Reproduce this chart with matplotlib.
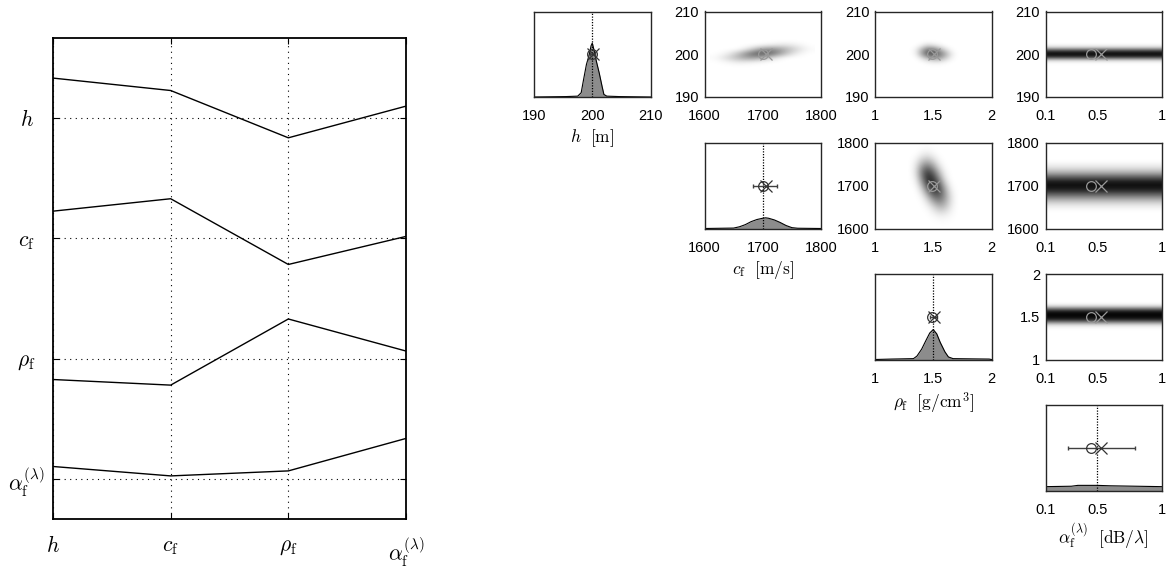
import numpy as np
import matplotlib.pyplot as plt

plt.rcParams['font.family'] = ['Liberation Sans', 'DejaVu Sans']
plt.rcParams['mathtext.fontset'] = 'cm'

# parameter names / axis stuff
names = [r'$h$', r'$c_\mathrm{f}$', r'$\rho_\mathrm{f}$', r'$\alpha_\mathrm{f}^{(\lambda)}$']
xlabels = [r'$h\ \ [\mathrm{m}]$', r'$c_\mathrm{f}\ \ [\mathrm{m/s}]$',
           r'$\rho_\mathrm{f}\ \ [\mathrm{g/cm^3}]$', r'$\alpha_\mathrm{f}^{(\lambda)}\ \ [\mathrm{dB}/\lambda]$']
lims = [(190, 210), (1600, 1800), (1, 2), (0.1, 1)]
ticks = [[190, 200, 210], [1600, 1700, 1800], [1, 1.5, 2], [0.1, 0.5, 1]]
ticklabels = [['190', '200', '210'], ['1600', '1700', '1800'], ['1', '1.5', '2'], ['0.1', '0.5', '1']]

# correlation rows (left panel)
corr_h = [1.00, 0.69, -0.49, 0.30]
corr_c = [0.68, 0.99, -0.65, 0.05]
corr_rho = [-0.52, -0.66, 0.99, 0.19]
corr_alpha = [0.31, 0.075, 0.20, 1.01]

# true value, posterior mean (o), MAP (x), error bar limits
true_vals = [200, 1700, 1.5, 0.5]
mean_vals = [199.9, 1700, 1.49, 0.452]
map_vals = [200.1, 1705, 1.51, 0.527]
err_lo = [199.6, 1684, 1.47, 0.276]
err_hi = [200.4, 1725, 1.53, 0.793]

# marginal densities (fraction of panel height)
h_x = [190, 195.5, 197.5, 198.1, 198.5, 199.0, 199.5, 199.8, 200.0, 200.3, 200.7, 201.2, 201.7, 202.0, 202.5, 204.6, 210]
h_y = [0, 0.005, 0.01, 0.05, 0.2, 0.38, 0.5, 0.6, 0.63, 0.55, 0.42, 0.28, 0.12, 0.03, 0.01, 0.005, 0]
c_x = [1600, 1650, 1660, 1670, 1680, 1690, 1700, 1705, 1710, 1720, 1730, 1740, 1750, 1760, 1800]
c_y = [0, 0.005, 0.02, 0.045, 0.08, 0.105, 0.12, 0.125, 0.12, 0.1, 0.07, 0.035, 0.01, 0.003, 0]
rho_x = [1.0, 1.14, 1.33, 1.36, 1.40, 1.44, 1.47, 1.50, 1.53, 1.56, 1.60, 1.63, 1.67, 1.98, 2.0]
rho_y = [0, 0.005, 0.01, 0.04, 0.12, 0.23, 0.31, 0.35, 0.30, 0.20, 0.09, 0.03, 0.01, 0.005, 0]
a_x = [0.1, 0.3, 0.35, 0.5, 0.6, 0.8, 1.0]
a_y = [0.045, 0.05, 0.06, 0.06, 0.055, 0.05, 0.045]
dens = [(h_x, h_y), (c_x, c_y), (rho_x, rho_y), (a_x, a_y)]

# joint densities (grey level 0..1), rows from top to bottom
hc_xs = [1620, 1640, 1660, 1680, 1700, 1720, 1740, 1760, 1780]
hc_ys = [204, 203, 202, 201, 200, 199, 198, 197, 196]
hc_img = [[0, 0, 0, 0, 0, 0, 0, 0, 0],
          [0, 0, 0, 0, 0, 0, 0, 0, 0],
          [0, 0, 0, 0, 0.02, 0.06, 0.1, 0.05, 0],
          [0, 0, 0, 0.15, 0.4, 0.45, 0.3, 0.15, 0.02],
          [0, 0.05, 0.25, 0.55, 0.7, 0.55, 0.25, 0.05, 0],
          [0.02, 0.15, 0.3, 0.4, 0.3, 0.1, 0, 0, 0],
          [0, 0.03, 0.08, 0.05, 0.02, 0, 0, 0, 0],
          [0, 0, 0, 0, 0, 0, 0, 0, 0],
          [0, 0, 0, 0, 0, 0, 0, 0, 0]]

hr_xs = [1.30, 1.35, 1.40, 1.45, 1.50, 1.55, 1.60, 1.65, 1.70]
hr_ys = [203, 202, 201, 200, 199, 198, 197]
hr_img = [[0, 0, 0, 0, 0, 0, 0, 0, 0],
          [0, 0, 0.05, 0.15, 0.1, 0.05, 0, 0, 0],
          [0, 0.05, 0.3, 0.55, 0.55, 0.35, 0.15, 0.02, 0],
          [0, 0.05, 0.35, 0.65, 0.7, 0.55, 0.35, 0.1, 0],
          [0, 0, 0.1, 0.25, 0.35, 0.35, 0.2, 0.05, 0],
          [0, 0, 0, 0.03, 0.05, 0.05, 0.02, 0, 0],
          [0, 0, 0, 0, 0, 0, 0, 0, 0]]

cr_xs = [1.25, 1.30, 1.35, 1.40, 1.45, 1.50, 1.55, 1.60, 1.65, 1.70, 1.75]
cr_ys = [1790, 1770, 1750, 1730, 1710, 1690, 1670, 1650, 1630, 1610]
cr_img = [[0, 0, 0, 0, 0, 0, 0, 0, 0, 0, 0],
          [0, 0, 0, 0.05, 0.08, 0.03, 0, 0, 0, 0, 0],
          [0, 0, 0.08, 0.3, 0.4, 0.25, 0.05, 0, 0, 0, 0],
          [0, 0, 0.12, 0.55, 0.8, 0.6, 0.25, 0.03, 0, 0, 0],
          [0, 0, 0.05, 0.4, 0.85, 0.85, 0.5, 0.12, 0, 0, 0],
          [0, 0, 0, 0.15, 0.55, 0.85, 0.75, 0.35, 0.05, 0, 0],
          [0, 0, 0, 0.02, 0.2, 0.5, 0.6, 0.4, 0.12, 0, 0],
          [0, 0, 0, 0, 0.03, 0.15, 0.3, 0.25, 0.08, 0, 0],
          [0, 0, 0, 0, 0, 0.02, 0.05, 0.05, 0.02, 0, 0],
          [0, 0, 0, 0, 0, 0, 0, 0, 0, 0, 0]]

# bands vs alpha (profile along y, top to bottom)
band_xs = [0.1, 0.325, 0.55, 0.775, 1.0]
ha_ys = [202.5, 202, 201.5, 201, 200.5, 200, 199.5, 199, 198.5, 198, 197.5]
ha_prof = [0, 0.05, 0.2, 0.55, 0.85, 0.95, 0.85, 0.5, 0.15, 0.03, 0]
ca_ys = [1760, 1750, 1740, 1730, 1720, 1710, 1700, 1690, 1680, 1670, 1660, 1650, 1640]
ca_prof = [0, 0.05, 0.15, 0.35, 0.65, 0.9, 0.95, 0.85, 0.6, 0.35, 0.15, 0.05, 0]
ra_ys = [1.675, 1.65, 1.625, 1.6, 1.575, 1.55, 1.525, 1.5, 1.475, 1.45, 1.425, 1.4, 1.375, 1.35]
ra_prof = [0, 0.05, 0.2, 0.5, 0.8, 0.95, 0.98, 0.95, 0.85, 0.6, 0.3, 0.1, 0.03, 0]


def band(prof, xs):
    return np.repeat(np.array(prof)[:, None], len(xs), axis=1)


joint = {
    (0, 1): (hc_xs, hc_ys, hc_img),
    (0, 2): (hr_xs, hr_ys, hr_img),
    (0, 3): (band_xs, ha_ys, band(ha_prof, band_xs)),
    (1, 2): (cr_xs, cr_ys, cr_img),
    (1, 3): (band_xs, ca_ys, band(ca_prof, band_xs)),
    (2, 3): (band_xs, ra_ys, band(ra_prof, band_xs)),
}

W, H = 1170, 567
fig = plt.figure(figsize=(W / 100, H / 100), dpi=100)

# ---- left: correlation lines
ax = fig.add_axes([53 / W, 1 - 519 / H, (406 - 53) / W, (519 - 38) / H])
xs = [1, 2, 3, 4]
for i, row in enumerate([corr_h, corr_c, corr_rho, corr_alpha]):
    ax.plot(xs, [4 - i + c / 3 for c in row], color='black', lw=1)
ax.set_xlim(1, 4)
ax.set_ylim(2 / 3, 14 / 3)
ax.set_xticks(xs)
ax.set_xticklabels(names, fontsize=15.5)
ax.set_yticks([4, 3, 2, 1])
ax.set_yticklabels(names, fontsize=15.5, ha='center')
ax.grid(True, linestyle=(0, (1, 4)), color='black', lw=0.8)
ax.tick_params(direction='in', top=True, right=True, length=4)
ax.tick_params(axis='x', pad=12)
ax.tick_params(axis='y', pad=19)
for s in ax.spines.values():
    s.set_linewidth(1.3)

# ---- right: triangle of marginals / joints
lefts = [534, 704.5, 875, 1045.5]
tops = [11.5, 143, 274, 405]
pw, ph = 116.5, 85.5
gray_m = '0.6'

for i in range(4):
    for j in range(i, 4):
        a = fig.add_axes([lefts[j] / W, 1 - (tops[i] + ph) / H, pw / W, ph / H])
        a.set_xlim(*lims[j])
        a.set_xticks(ticks[j])
        a.set_xticklabels(ticklabels[j], fontsize=10.5)
        a.tick_params(length=0, pad=9)
        for s in a.spines.values():
            s.set_linewidth(1.0)
            s.set_color('0.15')
        if i == j:
            dx, dy = dens[i]
            a.fill_between(dx, dy, 0, color='0.55', lw=0)
            a.plot(dx, dy, color='black', lw=0.8)
            a.axvline(true_vals[i], color='black', ls=(0, (1, 1.2)), lw=0.9)
            a.errorbar([map_vals[i]], [0.5], xerr=[[map_vals[i] - err_lo[i]], [err_hi[i] - map_vals[i]]],
                       fmt='none', ecolor='0.25', elinewidth=1, capsize=1.5)
            a.plot(mean_vals[i], 0.5, 'o', mfc='none', mec='0.2', ms=7, mew=0.9)
            a.plot(map_vals[i], 0.5, 'x', color='0.2', ms=8, mew=0.9)
            a.set_ylim(0, 1)
            a.set_yticks([])
            a.set_xlabel(xlabels[i], fontsize=12.5, labelpad=3)
        else:
            gx, gy, img = joint[(i, j)]
            img = np.array(img, dtype=float)
            ddx = (gx[1] - gx[0]) / 2
            ddy = (gy[0] - gy[1]) / 2
            a.imshow(img, cmap='gray_r', vmin=0, vmax=1, aspect='auto', interpolation='bicubic',
                     extent=[gx[0] - ddx, gx[-1] + ddx, gy[-1] - ddy, gy[0] + ddy], origin='upper')
            a.plot(mean_vals[j], true_vals[i], 'o', mfc='none', mec=gray_m, ms=7, mew=0.9)
            a.plot(map_vals[j], true_vals[i], 'x', color=gray_m, ms=8, mew=0.9)
            a.set_xlim(*lims[j])
            a.set_ylim(*lims[i])
            a.set_yticks(ticks[i])
            a.set_yticklabels(ticklabels[i], fontsize=10.5)
            a.tick_params(axis='y', pad=4)

fig.savefig('out.png', dpi=100)
